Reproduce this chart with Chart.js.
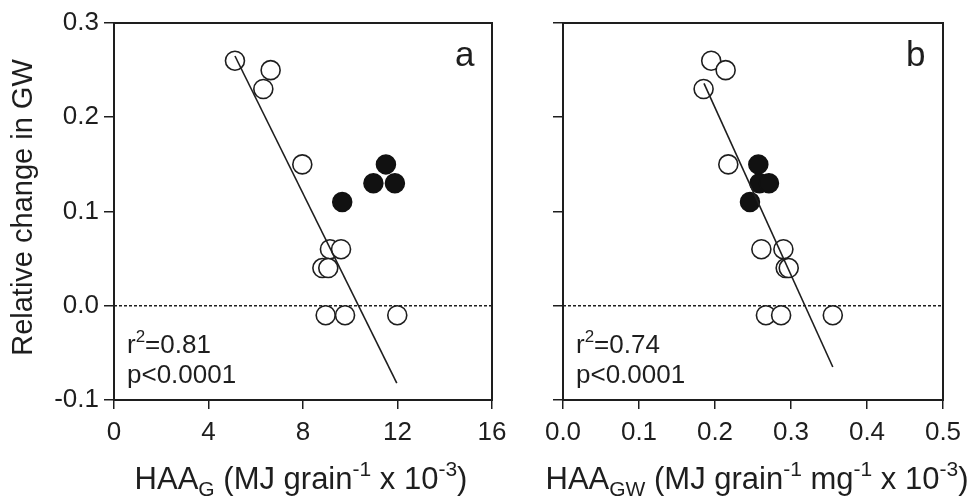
<!DOCTYPE html>
<html>
<head>
<meta charset="utf-8">
<script src="https://cdn.jsdelivr.net/npm/chart.js@4.4.1/dist/chart.umd.min.js"></script>
<style>
  body { margin: 0; background: #fff; }
  #wrap { position: relative; width: 971px; height: 501px; }
  canvas { position: absolute; top: 0; }
</style>
</head>
<body>
<div id="wrap">
  <canvas id="chartA" width="530" height="501" style="left:0"></canvas>
  <canvas id="chartB" width="451" height="501" style="left:520px"></canvas>
</div>
<script>
// panel a: HAA_G
const aOpenX = [5.12, 6.63, 6.32, 7.97, 9.14, 9.61, 8.82, 9.07, 8.96, 9.78, 11.99];
const aOpenY = [0.26, 0.25, 0.23, 0.15, 0.06, 0.06, 0.04, 0.04, -0.01, -0.01, -0.01];
const aFilledX = [9.66, 11.51, 10.98, 11.89];
const aFilledY = [0.11, 0.15, 0.13, 0.13];
const aLineX = [5.12, 11.97];
const aLineY = [0.265, -0.082];

// panel b: HAA_GW
const bOpenX = [0.195, 0.214, 0.185, 0.2175, 0.261, 0.290, 0.293, 0.297, 0.267, 0.287, 0.355];
const bOpenY = [0.26, 0.25, 0.23, 0.15, 0.06, 0.06, 0.04, 0.04, -0.01, -0.01, -0.01];
const bFilledX = [0.257, 0.2585, 0.271, 0.246];
const bFilledY = [0.15, 0.13, 0.13, 0.11];
const bLineX = [0.1855, 0.355];
const bLineY = [0.236, -0.065];

const yTicks = [-0.1, 0.0, 0.1, 0.2, 0.3];
const aXTicks = [0, 4, 8, 12, 16];
const bXTicks = [0.0, 0.1, 0.2, 0.3, 0.4, 0.5];

const INK = '#1e1e1e';
const FONT = '"Liberation Sans", Arial, Helvetica, sans-serif';

function pts(xs, ys) {
  return xs.map((x, i) => ({x: x, y: ys[i]}));
}

function drawRich(ctx, parts, x, y, align) {
  let total = 0;
  parts.forEach(p => {
    ctx.font = p[1] + 'px ' + FONT;
    p.w = ctx.measureText(p[0]).width;
    total += p.w;
  });
  let cx = align === 'center' ? x - total / 2 : x;
  parts.forEach(p => {
    ctx.font = p[1] + 'px ' + FONT;
    ctx.fillText(p[0], cx, y + p[2]);
    cx += p.w;
  });
}

// frame, panel letter, stats text, axis titles
const annotate = {
  id: 'annotate',
  afterDraw(chart, args, opts) {
    const ctx = chart.ctx;
    const a = chart.chartArea;
    ctx.save();
    ctx.strokeStyle = INK;
    ctx.lineWidth = 2;
    ctx.strokeRect(a.left, a.top, a.right - a.left, a.bottom - a.top);
    ctx.fillStyle = INK;
    ctx.textBaseline = 'alphabetic';
    ctx.textAlign = 'left';
    ctx.font = '35px ' + FONT;
    ctx.fillText(opts.letter, a.right - 37, a.top + 43);
    drawRich(ctx, opts.r2, a.left + 13, 353, 'left');
    drawRich(ctx, [[opts.p, 26, 0]], a.left + 13, 383, 'left');
    drawRich(ctx, opts.title, opts.titleX, 489, 'center');
    if (opts.ylabel) {
      ctx.translate(32, (a.top + a.bottom) / 2 - 4);
      ctx.rotate(-Math.PI / 2);
      ctx.textAlign = 'center';
      ctx.font = '29px ' + FONT;
      ctx.fillText(opts.ylabel, 0, 0);
    }
    ctx.restore();
  }
};

function makeChart(id, cfg) {
  const xTicks = cfg.xTicks;
  return new Chart(document.getElementById(id), {
    type: 'scatter',
    data: {
      datasets: [
        {
          data: pts(cfg.lineX, cfg.lineY),
          showLine: true, borderColor: INK, borderWidth: 1.6, pointRadius: 0
        },
        {
          data: pts(cfg.filledX, cfg.filledY),
          pointRadius: 9.5, pointBackgroundColor: '#111', pointBorderColor: '#111', pointBorderWidth: 1.5
        },
        {
          data: pts(cfg.openX, cfg.openY),
          pointRadius: 9.5, pointBackgroundColor: '#fff', pointBorderColor: INK, pointBorderWidth: 1.6
        },
        {
          data: pts([xTicks[0], xTicks[xTicks.length - 1]], [0, 0]),
          showLine: true, borderColor: INK, borderWidth: 1.4, borderDash: [3, 2], pointRadius: 0
        }
      ]
    },
    options: {
      responsive: false,
      animation: false,
      events: [],
      layout: { padding: { top: 23, right: cfg.padRight, left: 0, bottom: 0 } },
      plugins: {
        legend: { display: false },
        tooltip: { enabled: false },
        annotate: cfg.annotate
      },
      scales: {
        x: {
          type: 'linear',
          min: xTicks[0],
          max: xTicks[xTicks.length - 1],
          afterBuildTicks: s => { s.ticks = xTicks.map(v => ({value: v})); },
          afterFit: s => { s.height = 101; },
          ticks: {
            color: INK,
            font: { family: FONT, size: 26 },
            padding: 8,
            callback: v => cfg.xFmt(v)
          },
          grid: { drawOnChartArea: false, color: INK, lineWidth: 1.5, tickLength: 9 },
          border: { color: INK, width: 2 }
        },
        y: {
          min: yTicks[0],
          max: yTicks[yTicks.length - 1],
          afterBuildTicks: s => { s.ticks = yTicks.map(v => ({value: v})); },
          afterFit: s => { s.width = cfg.yWidth; },
          ticks: {
            color: INK,
            font: { family: FONT, size: 26 },
            padding: 5,
            callback: v => cfg.yLabels ? v.toFixed(1) : ''
          },
          grid: { drawOnChartArea: false, color: INK, lineWidth: 1.5, tickLength: 10 },
          border: { color: INK, width: 2 }
        }
      }
    },
    plugins: [annotate]
  });
}

makeChart('chartA', {
  openX: aOpenX, openY: aOpenY, filledX: aFilledX, filledY: aFilledY,
  lineX: aLineX, lineY: aLineY, xTicks: aXTicks,
  xFmt: v => String(v), yLabels: true, yWidth: 114, padRight: 38,
  annotate: {
    letter: 'a',
    r2: [['r', 26, 0], ['2', 17, -11], ['=0.81', 26, 0]],
    p: 'p<0.0001',
    titleX: 301,
    title: [['HAA', 31, 0], ['G', 21, 7], [' (MJ grain', 31, 0], ['-1', 21, -13],
            [' x 10', 31, 0], ['-3', 21, -13], [')', 31, 0]],
    ylabel: 'Relative change in GW'
  }
});

makeChart('chartB', {
  openX: bOpenX, openY: bOpenY, filledX: bFilledX, filledY: bFilledY,
  lineX: bLineX, lineY: bLineY, xTicks: bXTicks,
  xFmt: v => v.toFixed(1), yLabels: false, yWidth: 43, padRight: 28,
  annotate: {
    letter: 'b',
    r2: [['r', 26, 0], ['2', 17, -11], ['=0.74', 26, 0]],
    p: 'p<0.0001',
    titleX: 237,
    title: [['HAA', 31, 0], ['GW', 21, 7], [' (MJ grain', 31, 0], ['-1', 21, -13],
            [' mg', 31, 0], ['-1', 21, -13], [' x 10', 31, 0], ['-3', 21, -13], [')', 31, 0]],
    ylabel: null
  }
});
</script>
</body>
</html>
